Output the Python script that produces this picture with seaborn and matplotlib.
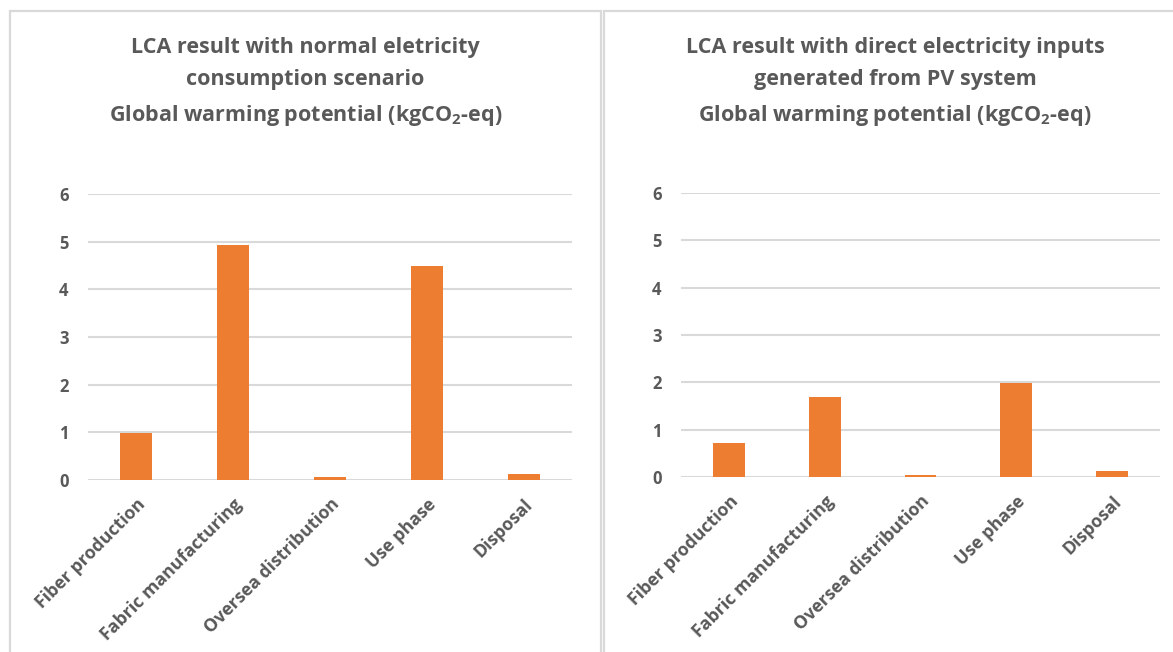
import matplotlib
matplotlib.use("Agg")
import matplotlib.pyplot as plt
from matplotlib.patches import Rectangle
import pandas as pd
import seaborn as sns

# Life-cycle stages and GWP results (kgCO2-eq)
stages = ["Fiber production", "Fabric manufacturing", "Oversea distribution", "Use phase", "Disposal"]
gwp_normal = [0.98, 4.93, 0.06, 4.48, 0.12]
gwp_pv = [0.71, 1.68, 0.04, 1.99, 0.13]
y_ticks = [0, 1, 2, 3, 4, 5, 6]

title_normal = ("LCA result with normal eletricity\nconsumption scenario\n"
                "Global warming potential (kgCO$_\\mathregular{2}$-eq)")
title_pv = ("LCA result with direct electricity inputs\ngenerated from PV system\n"
            "Global warming potential (kgCO$_\\mathregular{2}$-eq)")

sns.set_theme(style="white")
plt.rcParams["font.family"] = ["Open Sans", "DejaVu Sans"]
plt.rcParams["mathtext.fontset"] = "custom"
plt.rcParams["mathtext.rm"] = "Open Sans:bold"
plt.rcParams["mathtext.it"] = "Open Sans:bold"

W, H = 1173, 652
fig = plt.figure(figsize=(W / 100, H / 100), dpi=100)
fig.patch.set_facecolor("white")

TEXT = "#595959"
GRID = "#d9d9d9"
BAR = "#ED7D31"


def px_rect(x0, x1, y_top, y_bottom):
    return [x0 / W, (H - y_bottom) / H, (x1 - x0) / W, (y_bottom - y_top) / H]


panels = [
    dict(vals=gwp_normal, title=title_normal, frame=(10, 601), axes=(88, 572, 194, 480)),
    dict(vals=gwp_pv, title=title_pv, frame=(604, 1190), axes=(681, 1160, 193, 477)),
]

for p in panels:
    fx0, fx1 = p["frame"]
    fig.patches.append(Rectangle((fx0 / W, -0.05), (fx1 - fx0) / W, 1.05 - 11 / H,
                                 transform=fig.transFigure, fill=False,
                                 edgecolor=GRID, linewidth=1.6, zorder=0))
    ax0, ax1, yt, yb = p["axes"]
    ax = fig.add_axes(px_rect(ax0, ax1, yt, yb))
    df = pd.DataFrame({"stage": stages, "gwp": p["vals"]})
    sns.barplot(data=df, x="stage", y="gwp", ax=ax, color=BAR, saturation=1,
                width=0.33, linewidth=0, zorder=3)
    ax.set_ylim(0, 6)
    ax.set_xlim(-0.5, len(stages) - 0.5)
    ax.yaxis.grid(True, color=GRID, linewidth=1.5, zorder=0)
    ax.set_axisbelow(True)
    for s in ax.spines.values():
        s.set_visible(False)
    ax.set_xlabel("")
    ax.set_ylabel("")
    ax.tick_params(axis="both", length=0, colors=TEXT)
    ax.tick_params(axis="y", pad=14)
    ax.tick_params(axis="x", pad=11)
    ax.set_yticks(y_ticks, [str(t) for t in y_ticks], fontsize=12,
                  fontweight="bold", color=TEXT)
    ax.set_xticks(range(len(stages)), stages, rotation=45, ha="right",
                  rotation_mode="anchor", fontsize=12.8, fontweight="bold", color=TEXT)
    for lbl in ax.get_xticklabels():
        lbl.set_va("top")
    cx = (fx0 + min(fx1, 1186)) / 2 / W
    fig.text(cx, 1 - 37 / H, p["title"], ha="center", va="top", fontsize=15.5,
             fontweight="bold", color=TEXT, linespacing=1.7)

fig.savefig("out.png", dpi=100, facecolor="white")
